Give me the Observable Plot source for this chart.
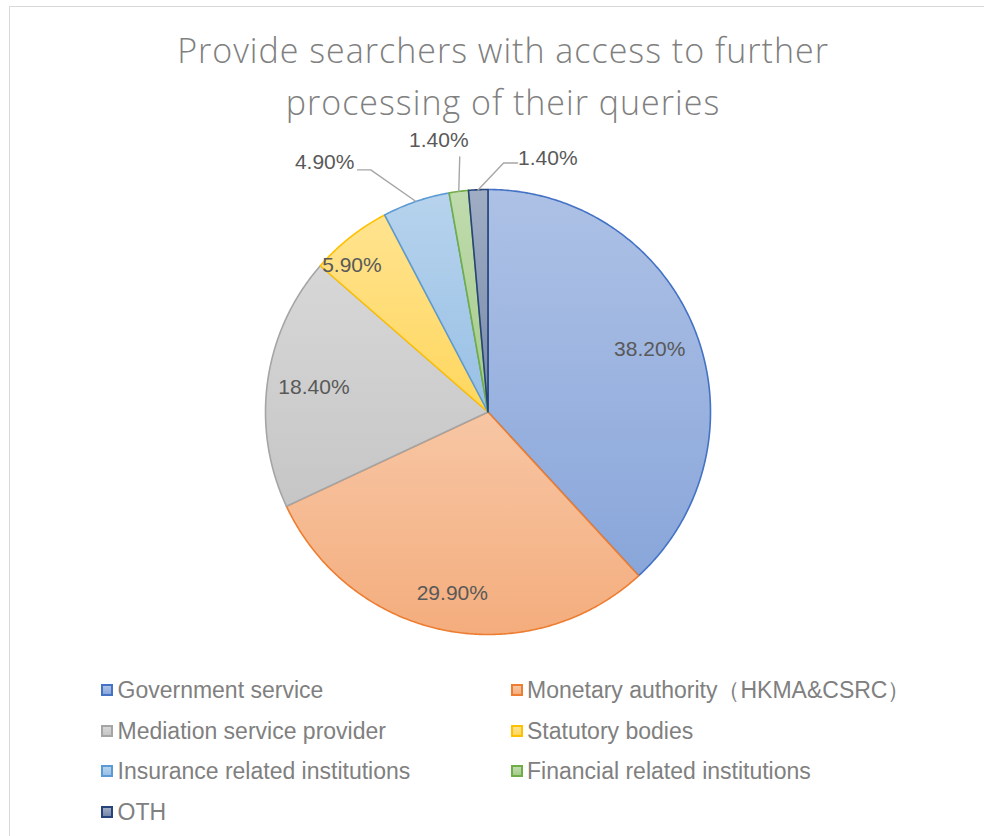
<!DOCTYPE html>
<html>
<head>
<meta charset="utf-8">
<script src="https://cdn.jsdelivr.net/npm/d3@7"></script>
<script src="https://cdn.jsdelivr.net/npm/@observablehq/plot@0.6"></script>
<style>
  html, body { margin: 0; padding: 0; background: #fff; }
  body { width: 984px; height: 836px; overflow: hidden; position: relative; }
  #frame { position: absolute; left: 9px; top: 6px; width: 1000px; height: 900px; border: 1.5px solid #d9d9d9; box-sizing: border-box; }
  #title { position: absolute; left: 0; width: 1006px; top: 24px; text-align: center;
    font-family: "Open Sans", "Noto Sans", sans-serif; font-weight: 300; font-size: 34px; line-height: 52px;
    color: #808080; letter-spacing: 1px; }
  #chart { position: absolute; left: 0; top: 120px; }
  .leg { position: absolute; font-family: "Liberation Sans", Arial, sans-serif; font-size: 23px; color: #808080; white-space: nowrap; line-height: 26px; }
  .sw { position: absolute; width: 12px; height: 12px; box-sizing: border-box; border: 2px solid; }
</style>
</head>
<body>
<div id="frame"></div>
<div id="title">Provide searchers with access to further<br>processing of their queries</div>
<div id="chart"></div>
<div id="legend"></div>
<script>
// ---- data ----
const categories = [
  "Government service",
  "Monetary authority（HKMA&CSRC）",
  "Mediation service provider",
  "Statutory bodies",
  "Insurance related institutions",
  "Financial related institutions",
  "OTH"
];
const shares = [38.2, 29.9, 18.4, 5.9, 4.9, 1.4, 1.4];
const valueLabels = ["38.20%", "29.90%", "18.40%", "5.90%", "4.90%", "1.40%", "1.40%"];
const baseColors = ["#4472C4", "#ED7D31", "#A5A5A5", "#FFC000", "#5B9BD5", "#70AD47", "#264478"];

// ---- layout (pie units, radius = 1) ----
const R = 222.5, CX = 487.5, CY = 291.5; // in svg px
const insideR = [0.78, 0.83, 0.79, 0.9];
const insideShift = [0, 0, 0, -4.5 * Math.PI / 180];
// outside callouts: label centre + leader start/elbow, pie units
const callouts = {
  4: {lx: -0.734, ly: 1.124, path: [[-0.586, 1.088], [-0.527, 1.088]]},
  5: {lx: -0.221, ly: 1.220, path: [[-0.127, 1.146]]},
  6: {lx: 0.269, ly: 1.142, path: [[0.133, 1.119], [0.070, 1.119]]}
};

const total = d3.sum(shares);
let acc = 0;
const slices = shares.map((v, i) => {
  const a0 = acc / total * 2 * Math.PI;
  acc += v;
  const a1 = acc / total * 2 * Math.PI;
  return {i, cat: categories[i], v, a0, a1, mid: (a0 + a1) / 2};
});

// slice outlines: centre -> arc -> centre
const slicePts = [];
for (const s of slices) {
  slicePts.push({k: s.i, x: 0, y: 0});
  const n = Math.max(2, Math.ceil((s.a1 - s.a0) / (Math.PI / 360)));
  for (let j = 0; j <= n; j++) {
    const a = s.a0 + (s.a1 - s.a0) * j / n;
    slicePts.push({k: s.i, x: Math.sin(a), y: Math.cos(a)});
  }
  slicePts.push({k: s.i, x: 0, y: 0});
}

const inside = slices.filter(s => !(s.i in callouts)).map(s => ({
  x: insideR[s.i] * Math.sin(s.mid + insideShift[s.i]),
  y: insideR[s.i] * Math.cos(s.mid + insideShift[s.i]),
  t: valueLabels[s.i]
}));
const outside = slices.filter(s => s.i in callouts).map(s => ({
  x: callouts[s.i].lx, y: callouts[s.i].ly, t: valueLabels[s.i]
}));
const leaders = [];
for (const s of slices) {
  if (!(s.i in callouts)) continue;
  for (const [x, y] of callouts[s.i].path) leaders.push({k: s.i, x, y});
  leaders.push({k: s.i, x: Math.sin(s.mid), y: Math.cos(s.mid)});
}

const light = c => d3.interpolateRgb(c, "#ffffff")(0.56);
const dark = c => d3.interpolateRgb(c, "#ffffff")(0.37);

const plot = Plot.plot({
  width: 984,
  height: 560,
  margin: 0,
  x: {domain: [-1, 1], range: [CX - R, CX + R], axis: null},
  y: {domain: [-1, 1], range: [CY + R, CY - R], axis: null},
  color: {type: "identity"},
  style: {background: "transparent"},
  marks: [
    Plot.line(slicePts, {
      x: "x", y: "y", z: "k",
      fill: d => `url(#sliceGrad${d.k})`,
      stroke: d => baseColors[d.k],
      strokeWidth: 1.6, strokeLinejoin: "round", curve: "linear"
    }),
    Plot.line(leaders, {x: "x", y: "y", z: "k", stroke: "#a6a6a6", strokeWidth: 1.4}),
    Plot.text(inside, {x: "x", y: "y", text: "t", fill: "#595959", fontSize: 21,
      fontFamily: "Liberation Sans, Arial, sans-serif"}),
    Plot.text(outside, {x: "x", y: "y", text: "t", fill: "#595959", fontSize: 21,
      fontFamily: "Liberation Sans, Arial, sans-serif"})
  ]
});

// gradient fills
const defs = d3.select(plot).insert("defs", ":first-child");
baseColors.forEach((c, i) => {
  const g = defs.append("linearGradient").attr("id", `sliceGrad${i}`)
    .attr("x1", 0).attr("y1", 0).attr("x2", 0).attr("y2", 1);
  g.append("stop").attr("offset", "0%").attr("stop-color", light(c));
  g.append("stop").attr("offset", "100%").attr("stop-color", dark(c));
});
document.getElementById("chart").appendChild(plot);

// legend
const legend = document.getElementById("legend");
const colX = [101, 510.5];
const rowY = [689.5, 730.5, 771, 811.5];
categories.forEach((cat, i) => {
  const cx = colX[i % 2], cy = rowY[Math.floor(i / 2)];
  const sw = document.createElement("div");
  sw.className = "sw";
  sw.style.left = cx + "px";
  sw.style.top = (cy - 6) + "px";
  sw.style.borderColor = baseColors[i];
  sw.style.background = `linear-gradient(${light(baseColors[i])}, ${dark(baseColors[i])})`;
  legend.appendChild(sw);
  const t = document.createElement("div");
  t.className = "leg";
  t.textContent = cat;
  t.style.left = (cx + 16.5) + "px";
  t.style.top = (cy - 13) + "px";
  legend.appendChild(t);
});
</script>
</body>
</html>
